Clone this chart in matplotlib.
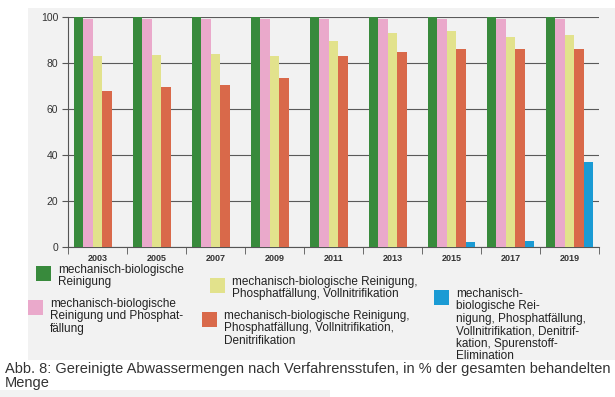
import matplotlib
matplotlib.use("Agg")
import matplotlib.pyplot as plt
from matplotlib.patches import Rectangle
import numpy as np

################################################################################
#                                   Data                                       #
################################################################################

years = ["2003", "2005", "2007", "2009", "2011", "2013", "2015", "2017", "2019"]

mb_reinigung = [100, 100, 100, 100, 100, 100, 100, 100, 100]
mb_phosphat = [99, 99, 99, 99, 99, 99, 99, 99, 99]
mb_nitrifikation = [83, 83.5, 84, 83, 89.5, 93, 94, 91.5, 92]
mb_denitrifikation = [68, 69.5, 70.5, 73.5, 83, 85, 86, 86, 86]
mb_spurenstoff = [0, 0, 0, 0, 0, 0, 2, 2.5, 37]

labels = [
    "mechanisch-biologische\nReinigung",
    "mechanisch-biologische\nReinigung und Phosphat-\nfällung",
    "mechanisch-biologische Reinigung,\nPhosphatfällung, Vollnitrifikation",
    "mechanisch-biologische Reinigung,\nPhosphatfällung, Vollnitrifikation,\nDenitrifikation",
    "mechanisch-\nbiologische Rei-\nnigung, Phosphatfällung,\nVollnitrifikation, Denitrif-\nkation, Spurenstoff-\nElimination",
]
colors = ["#388a3c", "#eaa9cb", "#e2e28c", "#d9694a", "#1b9bd4"]

caption = ("Abb. 8: Gereinigte Abwassermengen nach Verfahrensstufen, in % der gesamten behandelten\n"
           "Menge")

################################################################################
#                                  Figure                                      #
################################################################################

plt.rcParams["font.family"] = ["Liberation Sans", "DejaVu Sans"]

W, H = 615, 397
fig = plt.figure(figsize=(W / 100, H / 100), dpi=100)
fig.patch.set_facecolor("white")

def fx(px):
    return px / W

def fy(py):
    return 1 - py / H

# grey panel behind chart + legend
fig.patches.append(Rectangle((fx(28), fy(360)), fx(600), 352 / H, transform=fig.transFigure,
                             facecolor="#f2f2f2", edgecolor="none", zorder=-5))
fig.patches.append(Rectangle((0, 0), fx(330), 7 / H, transform=fig.transFigure,
                             facecolor="#f2f2f2", edgecolor="none", zorder=-5))

ax = fig.add_axes([fx(68), fy(247), fx(531), 230 / H])
ax.set_facecolor("none")
ax.set_zorder(2)

series = [mb_reinigung, mb_phosphat, mb_nitrifikation, mb_denitrifikation, mb_spurenstoff]
x = np.arange(len(years))
width = 0.16
for i, (vals, c) in enumerate(zip(series, colors)):
    ax.bar(x + (i - 2) * width, vals, width, color=c, zorder=3, linewidth=0)

ax.set_xlim(-0.5, len(years) - 0.5)
ax.set_ylim(0, 100)
ax.set_yticks(range(0, 101, 20))
ax.yaxis.grid(True, color="#5a5a5a", linewidth=0.8, zorder=1)
ax.set_axisbelow(True)
ax.tick_params(axis="y", direction="out", length=4, color="#555555", labelsize=7.5,
               labelcolor="#333333", pad=3)

ax.set_xticks(x)
ax.set_xticklabels(years, fontsize=6.5, color="#333333", fontweight="bold")
ax.set_xticks(np.arange(len(years) + 1) - 0.5, minor=True)
ax.tick_params(axis="x", which="major", length=0, pad=5)
ax.tick_params(axis="x", which="minor", length=5, color="#555555")

for s in ["top", "right"]:
    ax.spines[s].set_visible(False)
for s in ["left", "bottom"]:
    ax.spines[s].set_color("#555555")
    ax.spines[s].set_linewidth(0.8)

# legend laid out like the original (three irregular columns)
legend_pos = [(36, 266), (28, 300), (210, 278), (202, 312), (434, 290)]
for lab, c, (px, py) in zip(labels, colors, legend_pos):
    fig.patches.append(Rectangle((fx(px), fy(py + 15)), fx(15), 15 / H, transform=fig.transFigure,
                                 facecolor=c, edgecolor="none", zorder=2))
    fig.text(fx(px + 22), fy(py - 2), lab, fontsize=8.5, color="#222222", va="top", ha="left",
             linespacing=1.05)

fig.text(fx(5), fy(362), caption, fontsize=10.5, color="#333333", va="top", ha="left",
         linespacing=1.0)

fig.savefig("out.png", dpi=100)
print("Done")
